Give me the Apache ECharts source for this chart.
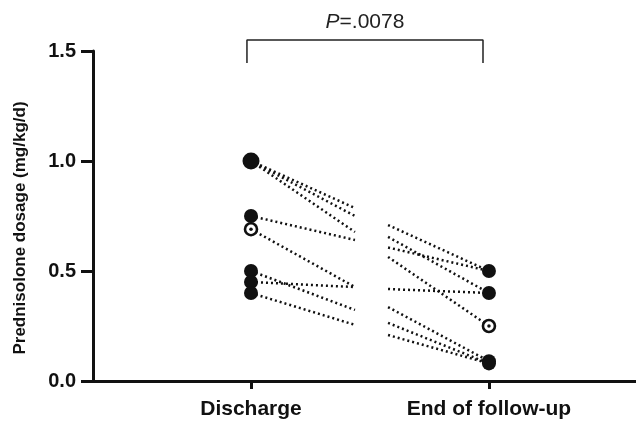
<!DOCTYPE html>
<html>
<head>
<meta charset="utf-8">
<script src="https://cdn.jsdelivr.net/npm/echarts@6/dist/echarts.min.js"></script>
<style>html,body{margin:0;padding:0;background:#fff;}#c{width:636px;height:424px;}</style>
</head>
<body>
<div id="c"></div>
<script>
// Categories (x positions 1 and 2)
const categories = ['Discharge', 'End of follow-up'];
const yTicks = [0, 0.5, 1.0, 1.5];
const yTitle = 'Prednisolone dosage (mg/kg/d)';
// Segments from Discharge points (drawn toward the middle)
const leftStart = [1.0, 1.0, 1.0, 0.75, 0.69, 0.5, 0.45, 0.40];
const leftEnd   = [0.786, 0.75, 0.677, 0.641, 0.427, 0.323, 0.427, 0.255];
// Segments into End of follow-up points (drawn from the middle)
const rightStart = [0.709, 0.655, 0.607, 0.564, 0.418, 0.336, 0.264, 0.209];
const rightEnd   = [0.5, 0.4, 0.5, 0.25, 0.4, 0.09, 0.08, 0.08];
// Points
const dischargeFilled = [1.0, 0.75, 0.5, 0.45, 0.40];
const dischargeOpen = [0.69];
const endFilled = [0.5, 0.4, 0.09, 0.08];
const endOpen = [0.25];
const pText = '.0078';

const X_LEFT = 1, X_RIGHT = 2, X_MID_L = 1.437, X_MID_R = 1.576;
const font = '"Liberation Sans", Arial, sans-serif';

const series = [];
const dotted = { color: '#111', width: 2.5, type: [2, 3] };
leftStart.forEach((v, i) => {
  series.push({ type: 'line', data: [[X_LEFT, v], [X_MID_L, leftEnd[i]]], symbol: 'none', lineStyle: dotted, z: 2, silent: true, animation: false });
});
rightStart.forEach((v, i) => {
  series.push({ type: 'line', data: [[X_MID_R, v], [X_RIGHT, rightEnd[i]]], symbol: 'none', lineStyle: dotted, z: 2, silent: true, animation: false });
});
series.push({
  type: 'scatter', z: 5, animation: false,
  data: dischargeFilled.map(v => [X_LEFT, v]).concat(endFilled.map(v => [X_RIGHT, v])),
  symbolSize: v => (v[1] >= 1 ? 17 : 14),
  itemStyle: { color: '#111', opacity: 1 }
});
series.push({
  type: 'scatter', z: 6, animation: false,
  data: dischargeOpen.map(v => [X_LEFT, v]).concat(endOpen.map(v => [X_RIGHT, v])),
  symbolSize: 12,
  itemStyle: { color: '#fff', borderColor: '#111', borderWidth: 2.6, opacity: 1 }
});
series.push({
  type: 'scatter', z: 7, animation: false,
  data: dischargeOpen.map(v => [X_LEFT, v]).concat(endOpen.map(v => [X_RIGHT, v])),
  symbolSize: 3.5,
  itemStyle: { color: '#111', opacity: 1 }
});
// significance bracket
series.push({
  type: 'line', z: 3, animation: false, clip: false, symbol: 'none',
  data: [[0.983, 1.445], [0.983, 1.55], [1.975, 1.55], [1.975, 1.445]],
  lineStyle: { color: '#222', width: 1.5 }
});

const chart = echarts.init(document.getElementById('c'), null, { renderer: 'canvas' });
chart.setOption({
  animation: false,
  backgroundColor: '#fff',
  grid: { left: 93, right: 0, top: 51, bottom: 43, containLabel: false },
  xAxis: {
    type: 'value', min: 0.336, max: 2.618,
    splitLine: { show: false },
    axisLine: { show: true, onZero: false, lineStyle: { color: '#111', width: 3 } },
    axisTick: { show: true, customValues: [X_LEFT, X_RIGHT], length: 8, lineStyle: { color: '#111', width: 3 } },
    axisLabel: {
      customValues: [X_LEFT, X_RIGHT],
      formatter: v => categories[Math.round(v) - 1],
      color: '#111', fontWeight: 'bold', fontSize: 21, fontFamily: font, margin: 18
    }
  },
  yAxis: {
    type: 'value', min: 0, max: 1.5, interval: 0.5,
    splitLine: { show: false },
    axisLine: { show: true, lineStyle: { color: '#111', width: 3 } },
    axisTick: { show: true, length: 12, lineStyle: { color: '#111', width: 3 } },
    axisLabel: {
      formatter: v => yTicks.indexOf(v) >= 0 ? v.toFixed(1) : '',
      color: '#111', fontWeight: 'bold', fontSize: 20, fontFamily: font, margin: 17
    }
  },
  graphic: [{
    type: 'text',
    style: {
      x: 365, y: 22, text: '{i|P}=' + pText, align: 'center', verticalAlign: 'middle',
      fontSize: 21, fontFamily: font, fill: '#222',
      rich: { i: { fontStyle: 'italic', fontSize: 21, fontFamily: font, color: '#222' } }
    }
  }, {
    type: 'text', x: 20, y: 228, rotation: Math.PI / 2,
    style: {
      x: 0, y: 0, text: yTitle, align: 'center', verticalAlign: 'middle',
      fontSize: 17, fontWeight: 'bold', fontFamily: font, fill: '#111'
    }
  }],
  series: series
});
</script>
</body>
</html>
